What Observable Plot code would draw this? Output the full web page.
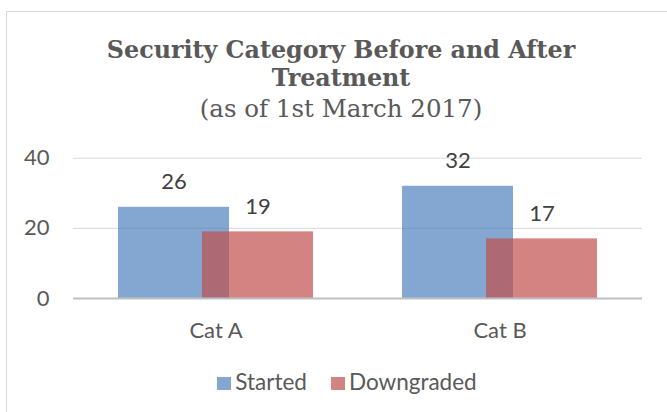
<!DOCTYPE html>
<html><head><meta charset="utf-8">
<script src="https://cdn.jsdelivr.net/npm/d3@7"></script>
<script src="https://cdn.jsdelivr.net/npm/@observablehq/plot@0.6"></script>
<style>
body{margin:0;background:#fff;}
#wrap{position:relative;width:667px;height:412px;overflow:hidden;font-family:Lato,"Open Sans",sans-serif;}
#frame{position:absolute;left:6px;top:11px;width:700px;height:450px;border:1px solid #d9d9d9;}
.t{position:absolute;left:0;width:682px;text-align:center;color:#595959;font-family:"DejaVu Serif",serif;white-space:nowrap;line-height:1;}
#chart{position:absolute;left:0;top:130px;}
#legend{position:absolute;left:0;top:368px;width:694px;text-align:center;font-size:22.5px;line-height:27px;color:#595959;white-space:nowrap;}
.sw{display:inline-block;width:14px;height:13px;margin-right:4px;vertical-align:baseline;}
.gap{display:inline-block;width:24px;}
</style></head><body>
<div id="wrap">
<div id="frame"></div>
<div class="t" id="t1" style="top:39px;font-size:23.8px;font-weight:bold;">Security Category Before and After</div>
<div class="t" id="t2" style="top:67px;font-size:23.8px;font-weight:bold;">Treatment</div>
<div class="t" id="t3" style="top:97px;font-size:24.5px;">(as of 1st March 2017)</div>
<div id="chart"></div>
<div id="legend"></div>
</div>
<script>
const categories = ["Cat A", "Cat B"];
const seriesNames = ["Started", "Downgraded"];
const started = [26, 32];
const downgraded = [19, 17];
const yTicks = [0, 20, 40];
const colors = ["#4f81bd", "#c0504d"];

const startedRows = categories.map((c, i) => ({cat: c, value: started[i]}));
const downRows = categories.map((c, i) => ({cat: c, value: downgraded[i]}));

const chart = Plot.plot({
  width: 667,
  height: 220,
  marginLeft: 73,
  marginRight: 25,
  marginTop: 27.7,
  marginBottom: 52,
  style: {fontFamily: "Lato, 'Open Sans', sans-serif", background: "transparent"},
  x: {domain: categories, paddingInner: 0.3146, paddingOuter: 0.1573, label: null},
  y: {domain: [0, 40], label: null},
  marks: [
    Plot.ruleY(yTicks.filter(d => d > 0), {stroke: "#d9d9d9", strokeWidth: 1}),
    Plot.barY(startedRows, {x: "cat", y: "value", fill: colors[0], fillOpacity: 0.7, insetRight: 84}),
    Plot.barY(downRows, {x: "cat", y: "value", fill: colors[1], fillOpacity: 0.7, insetLeft: 84}),
    Plot.ruleY([0], {stroke: "#bfbfbf", strokeWidth: 2}),
    Plot.text(startedRows, {x: "cat", y: "value", text: d => String(d.value), dx: -42, dy: -25, fontSize: 22, fill: "#404040"}),
    Plot.text(downRows, {x: "cat", y: "value", text: d => String(d.value), dx: 42, dy: -25, fontSize: 22, fill: "#404040"}),
    Plot.axisY({ticks: yTicks, tickSize: 0, tickPadding: 24, fontSize: 22, color: "#595959", label: null}),
    Plot.axisX({tickSize: 0, tickPadding: 24, fontSize: 22, color: "#595959", label: null})
  ]
});
document.getElementById("chart").appendChild(chart);

const legend = document.getElementById("legend");
seriesNames.forEach((name, i) => {
  if (i > 0) {
    const g = document.createElement("span");
    g.className = "gap";
    legend.appendChild(g);
  }
  const sw = document.createElement("span");
  sw.className = "sw";
  sw.style.background = colors[i];
  sw.style.opacity = 0.7;
  const tx = document.createElement("span");
  tx.textContent = name;
  legend.appendChild(sw);
  legend.appendChild(tx);
});
</script>
</body></html>
